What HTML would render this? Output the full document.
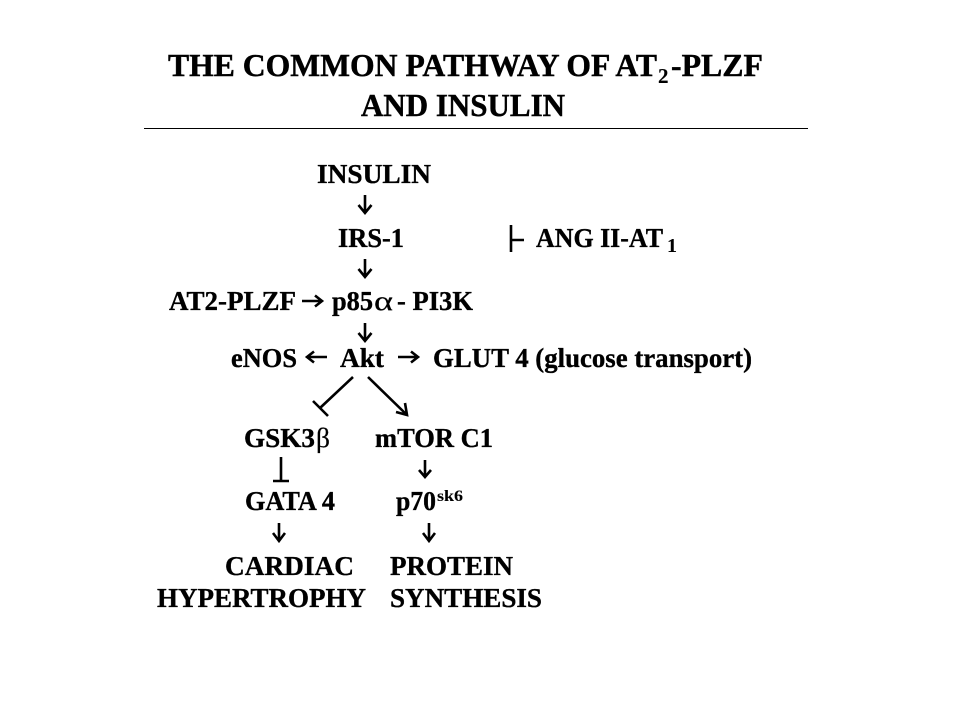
<!DOCTYPE html>
<html>
<head>
<meta charset="utf-8">
<style>
html,body{margin:0;padding:0;background:#fff;}
svg{display:block;}
text{font-family:"Liberation Serif",serif;font-weight:bold;fill:#000;stroke:#000;stroke-width:.35px;font-size:27px;}
.t{font-size:32px;stroke-width:.45px;}
.s{font-size:16px;stroke-width:.1px;}
.sym{font-weight:normal;stroke-width:.2px;}
.l{stroke:#000;stroke-width:2.6;fill:none;}
</style>
</head>
<body>
<svg width="960" height="720" viewBox="0 0 960 720" xmlns="http://www.w3.org/2000/svg">
<rect width="960" height="720" fill="#fff"/>
<text class="t" x="168" y="76" textLength="489" lengthAdjust="spacingAndGlyphs">THE COMMON PATHWAY OF AT</text>
<text class="s" x="658" y="83" style="font-size:21px">2</text>
<text class="t" x="671" y="76" textLength="92" lengthAdjust="spacingAndGlyphs">-PLZF</text>
<text class="t" x="361" y="116" textLength="204" lengthAdjust="spacingAndGlyphs">AND INSULIN</text>
<line x1="144" y1="128.5" x2="808" y2="128.5" stroke="#000" stroke-width="1"/>

<text x="317" y="183" textLength="114" lengthAdjust="spacingAndGlyphs">INSULIN</text>
<text x="338" y="247" textLength="66" lengthAdjust="spacingAndGlyphs">IRS-1</text>
<text x="536" y="247" textLength="127" lengthAdjust="spacingAndGlyphs">ANG II-AT</text>
<text class="s" x="667" y="252" style="font-size:20px">1</text>
<text x="169" y="310" textLength="127" lengthAdjust="spacingAndGlyphs">AT2-PLZF</text>
<text x="332" y="310" textLength="41" lengthAdjust="spacingAndGlyphs">p85</text>
<text class="sym" x="374" y="310" textLength="19" lengthAdjust="spacingAndGlyphs">α</text>
<text x="397" y="310" textLength="76" lengthAdjust="spacingAndGlyphs">- PI3K</text>
<text x="231" y="367" textLength="66" lengthAdjust="spacingAndGlyphs">eNOS</text>
<text x="340" y="367" textLength="44" lengthAdjust="spacingAndGlyphs">Akt</text>
<text x="433" y="367" textLength="319" lengthAdjust="spacingAndGlyphs">GLUT 4 (glucose transport)</text>
<text x="244" y="447" textLength="71" lengthAdjust="spacingAndGlyphs">GSK3</text>
<text class="sym" x="316" y="447" textLength="14" lengthAdjust="spacingAndGlyphs">β</text>
<text x="375" y="447" textLength="118" lengthAdjust="spacingAndGlyphs">mTOR C1</text>
<text x="245" y="510" textLength="90" lengthAdjust="spacingAndGlyphs">GATA 4</text>
<text x="396" y="510" textLength="40" lengthAdjust="spacingAndGlyphs">p70</text>
<text class="s" x="437" y="501" textLength="26" lengthAdjust="spacingAndGlyphs">sk6</text>
<text x="225" y="575" textLength="129" lengthAdjust="spacingAndGlyphs">CARDIAC</text>
<text x="390" y="575" textLength="123" lengthAdjust="spacingAndGlyphs">PROTEIN</text>
<text x="157" y="607" textLength="209" lengthAdjust="spacingAndGlyphs">HYPERTROPHY</text>
<text x="390" y="607" textLength="152" lengthAdjust="spacingAndGlyphs">SYNTHESIS</text>

<path class="l" d="M365 195V213M358.500 205L365 213L371.500 205"/>
<path class="l" d="M365 259V277M358.500 269L365 277L371.500 269"/>
<path class="l" d="M365 323V341M358.500 333L365 341L371.500 333"/>
<path class="l" d="M425 460V477M419 470L425 477L431 470"/>
<path class="l" d="M279 523V541M273 533L279 541L285 533"/>
<path class="l" d="M429 523V541M423 533L429 541L435 533"/>
<path class="l" d="M302 301H321M315 295.500L322 301L315 306.500"/>
<path class="l" d="M327 357H308M314 351.500L307 357L314 362.500"/>
<path class="l" d="M398 357H417M411 351.500L418 357L411 362.500"/>
<path class="l" d="M353 377L320 408M313 401L328 416"/>
<path class="l" d="M368 377L407 415M396 412L407 415L405 403"/>
<path class="l" d="M281 457V481M273 481H289"/>
<path class="l" d="M511 225V252M511 240H524"/>
</svg>
</body>
</html>
